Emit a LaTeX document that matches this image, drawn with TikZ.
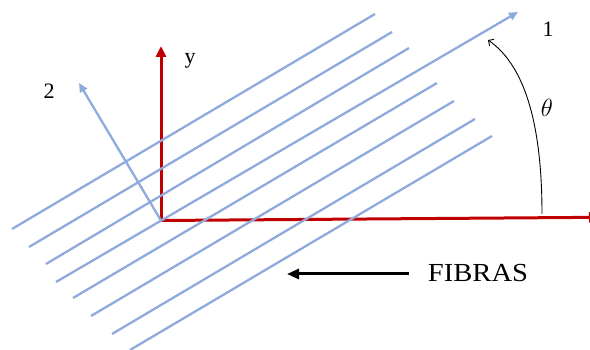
\documentclass[tikz,border=0pt]{standalone}
\usepackage{fontspec}
\setmainfont{Liberation Serif}
\usetikzlibrary{arrows.meta}
\definecolor{fibblue}{HTML}{8FAADC}
\definecolor{axred}{HTML}{C00000}
\begin{document}
\begin{tikzpicture}[x=1pt,y=-1pt,
  fiber/.style={draw=fibblue,line width=2.3pt},
  bluearrow/.style={fiber,-{Triangle[length=9pt,width=8pt]}},
  redaxis/.style={draw=axred,line width=3pt,-{Triangle[length=11pt,width=10pt]}},
  lbl/.style={inner sep=0pt,font=\fontsize{22}{26}\selectfont},
  anglearc/.style={draw=black,line width=0.9pt,-{Straight Barb[length=4pt,width=8pt]}},
  bigarrow/.style={draw=black,line width=3pt,-{Triangle[length=12pt,width=10pt]}}]
\clip (0,0) rectangle (590,350);
% named points
\coordinate (O) at (161,220.5);
\coordinate (ytip) at (161,46);
\coordinate (xtip) at (600,217.3);
\coordinate (onestart) at (56,282);
\coordinate (onetip) at (518,12);
\coordinate (twotip) at (79,83);
% red axes
\draw[redaxis] (O) -- (ytip);
\draw[redaxis] (O) -- (xtip);
% fibers
\foreach \i/\a/\b/\c/\d in {1/12/229/375/14, 2/29/247/392/32, 3/46/264/409/48,
    4/73/298/437/83, 5/91/316/454/101, 6/112/334/475/119, 7/130/350/492/136}{
  \coordinate (fa\i) at (\a,\b);
  \coordinate (fb\i) at (\c,\d);
  \draw[fiber] (fa\i) -- (fb\i);
}
% axes 1 and 2
\draw[bluearrow] (onestart) -- (onetip);
\draw[bluearrow] (O) -- (twotip);
% angle arc
\coordinate (arcstart) at (542,214);
\coordinate (arcend) at (488,40);
\draw[anglearc] (arcstart) .. controls (542,130) and (527,67) .. (arcend);
% labels
\node[lbl] (l1) at (548,29) {1};
\node[lbl] (l2) at (49,91) {2};
\node[lbl] (ly) at (190,61) {y};
\node[lbl,font=\fontsize{25}{30}\selectfont] (lt) at (547,108) {$\theta$};
% FIBRAS
\node[inner sep=0pt,anchor=base,font=\fontsize{26}{30}\selectfont] (fib) at (478,282) {\scalebox{1.1}[1]{FIBRAS}};
\coordinate (fstart) at (409,274);
\coordinate (fend) at (287,274);
\draw[bigarrow] (fstart) -- (fend);
\end{tikzpicture}
\end{document}
